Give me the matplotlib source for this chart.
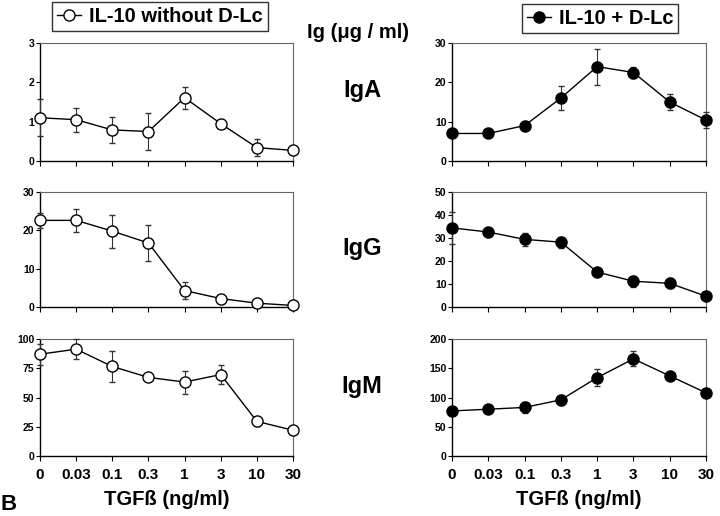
import numpy as np
import matplotlib
matplotlib.use("Agg")
import matplotlib.pyplot as plt
from matplotlib.lines import Line2D

plt.rcParams["font.family"] = ["Liberation Sans", "DejaVu Sans"]
plt.rcParams["font.weight"] = "bold"

doses = ["0", "0.03", "0.1", "0.3", "1", "3", "10", "30"]
isotypes = ["IgA", "IgG", "IgM"]

# without D-Lc (open circles)
iga_no = [1.10, 1.05, 0.79, 0.75, 1.61, 0.95, 0.34, 0.27]
iga_no_err = [0.47, 0.31, 0.33, 0.46, 0.28, 0.05, 0.21, 0.02]
igg_no = [22.6, 22.6, 19.8, 16.7, 4.3, 2.2, 1.0, 0.4]
igg_no_err = [1.9, 3.0, 4.3, 4.6, 2.1, 0.3, 0.3, 0.1]
igm_no = [87.0, 91.3, 76.5, 67.2, 63.2, 69.6, 29.6, 22.0]
igm_no_err = [9.0, 8.8, 13.3, 2.0, 9.8, 8.1, 4.0, 1.0]

# with D-Lc (filled circles)
iga_lc = [7.0, 7.0, 9.0, 16.0, 24.0, 22.5, 15.0, 10.4]
iga_lc_err = [0.3, 0.3, 0.4, 3.1, 4.6, 1.3, 2.1, 2.1]
igg_lc = [34.4, 32.6, 29.4, 28.2, 15.2, 11.2, 10.3, 4.7]
igg_lc_err = [6.8, 1.0, 2.9, 2.4, 1.0, 2.4, 2.2, 0.5]
igm_lc = [77, 80, 83, 96, 134, 166, 137, 108]
igm_lc_err = [3, 3, 10, 8, 14, 13, 5, 3]

left_data = [(iga_no, iga_no_err), (igg_no, igg_no_err), (igm_no, igm_no_err)]
right_data = [(iga_lc, iga_lc_err), (igg_lc, igg_lc_err), (igm_lc, igm_lc_err)]
left_ylim = [(0, 3, 1), (0, 30, 10), (0, 100, 25)]
right_ylim = [(0, 30, 10), (0, 50, 10), (0, 200, 50)]

W, H = 720, 516
fig = plt.figure(figsize=(7.2, 5.16), dpi=100)

rows_px = [(43, 161), (192, 307), (339, 456)]
cols_px = [(40, 293), (452, 706)]


def make_ax(col, row):
    x0, x1 = cols_px[col]
    y0, y1 = rows_px[row]
    return fig.add_axes([x0 / W, 1 - y1 / H, (x1 - x0) / W, (y1 - y0) / H])


x = np.arange(len(doses))
for col, (data, lims, face) in enumerate([(left_data, left_ylim, "white"),
                                          (right_data, right_ylim, "black")]):
    for row in range(3):
        ax = make_ax(col, row)
        vals, errs = data[row]
        eb = ax.errorbar(x, vals, yerr=errs, fmt="-o", color="black",
                         mfc=face, mec="black", ms=8, mew=1.0, lw=1.0,
                         ecolor="#333333", elinewidth=0.8, capsize=2,
                         capthick=0.8, clip_on=False, zorder=3)
        for artist in eb.lines[1] + eb.lines[2]:
            artist.set_clip_on(False)
        lo, hi, step = lims[row]
        ax.set_ylim(lo, hi)
        ax.set_yticks(np.arange(lo, hi + step / 2, step))
        ax.set_xlim(0, len(doses) - 1)
        ax.set_xticks(x)
        if row == 2:
            ax.set_xticklabels(doses, fontsize=11, fontweight="bold")
            ax.set_xlabel("TGFß (ng/ml)", fontsize=14.5, fontweight="bold",
                          labelpad=6)
        else:
            ax.set_xticklabels([])
        for lab in ax.get_yticklabels():
            lab.set_fontsize(7.5)
            lab.set_fontweight("bold")
        ax.tick_params(axis="x", direction="out", length=3.5, width=0.8, pad=5)
        ax.tick_params(axis="y", direction="out", length=3, width=0.8, pad=1)
        for side in ["left", "bottom"]:
            ax.spines[side].set_linewidth(1.0)
            ax.spines[side].set_color("black")
        for side in ["top", "right"]:
            ax.spines[side].set_linewidth(0.8)
            ax.spines[side].set_color("#666666")

# legends
h_no = Line2D([], [], color="black", lw=1.0, marker="o", mfc="white",
              mec="black", ms=8)
h_lc = Line2D([], [], color="black", lw=1.0, marker="o", mfc="black",
              mec="black", ms=8)
for h, label, cx, cy in [(h_no, "IL-10 without D-Lc", 160 / W, 1 - 16.5 / H),
                         (h_lc, "IL-10 + D-Lc", 600 / W, 1 - 18.5 / H)]:
    leg = fig.legend([h], [label], loc="center", bbox_to_anchor=(cx, cy),
                     fancybox=False, frameon=True, edgecolor="black",
                     handlelength=1.2, handletextpad=0.4, borderpad=0.25,
                     prop={"size": 14.5, "weight": "bold"})
    leg.get_frame().set_linewidth(1.0)

fig.text(358 / W, 1 - 32 / H, "Ig (μg / ml)", ha="center", va="center",
         fontsize=14.5, fontweight="bold")
for name, cy in zip(isotypes, [90, 249, 387]):
    fig.text(362 / W, 1 - cy / H, name, ha="center", va="center",
             fontsize=17, fontweight="bold")
fig.text(0 / W, 1 - 505 / H, "B", ha="left", va="center", fontsize=16,
         fontweight="bold")

fig.savefig("out.png", dpi=100)
